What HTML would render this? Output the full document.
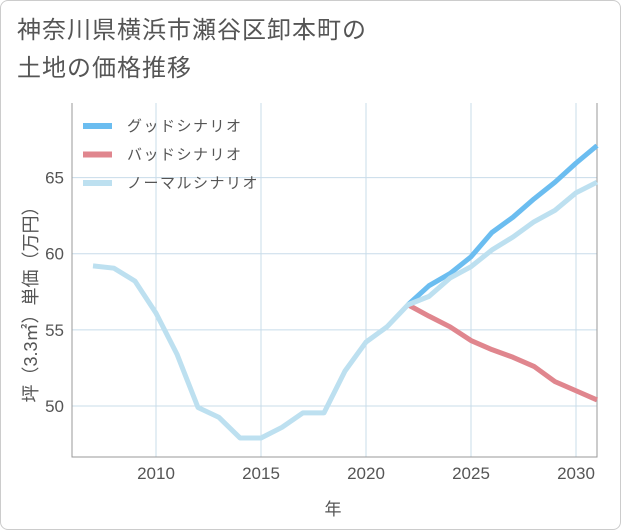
<!DOCTYPE html>
<html><head><meta charset="utf-8"><style>
body{margin:0;background:#fff;font-family:"Liberation Sans","Noto Sans CJK JP",sans-serif}
#card{position:absolute;left:0;top:0;width:619px;height:528px;border:1px solid #ccc;border-radius:8px;background:#fff}
#title{position:absolute;left:17px;top:12px;font-size:24px;line-height:38px;color:#555;letter-spacing:1px}
svg{position:absolute;left:0;top:0}
</style></head><body>
<div id="card"></div>
<div id="title">神奈川県横浜市瀬谷区卸本町の<br>土地の価格推移</div>
<svg id="chart" width="621" height="530"></svg>
<script>
const years=[2007,2008,2009,2010,2011,2012,2013,2014,2015,2016,2017,2018,2019,2020,2021,2022,2023,2024,2025,2026,2027,2028,2029,2030,2031];
const normal=[59.2,59.05,58.2,56.1,53.4,49.9,49.25,47.9,47.9,48.6,49.55,49.55,52.3,54.2,55.2,56.65,57.2,58.4,59.15,60.25,61.1,62.1,62.85,64.0,64.7];
const goodYears=[2022,2023,2024,2025,2026,2027,2028,2029,2030,2031];
const good=[56.65,57.9,58.7,59.8,61.4,62.4,63.6,64.7,65.95,67.1];
const bad=[56.65,55.9,55.2,54.3,53.7,53.2,52.6,51.6,51.0,50.4];
const xTicks=[2010,2015,2020,2025,2030];
const yTicks=[50,55,60,65];
const L=72,R=597,T=103,B=457,x0=2006,x1=2031,y0=46.65,y1=69.9;
const X=v=>L+(v-x0)/(x1-x0)*(R-L);
const Y=v=>B-(v-y0)/(y1-y0)*(B-T);
const svg=document.getElementById('chart');const NS='http://www.w3.org/2000/svg';
function mk(t,a,p){const e=document.createElementNS(NS,t);for(const k in a)e.setAttribute(k,a[k]);(p||svg).appendChild(e);return e;}
xTicks.forEach(t=>{const l=mk('line',{x1:X(t),x2:X(t),y1:T,y2:B,stroke:'#c8dcea','stroke-width':1});

const tx=mk('text',{x:X(t),y:479,'text-anchor':'middle','font-size':17,fill:'#555'});tx.textContent=t;
});
yTicks.forEach(t=>{const l=mk('line',{x1:L,x2:R,y1:Y(t),y2:Y(t),stroke:'#c8dcea','stroke-width':1});

const tx=mk('text',{x:64,y:Y(t)+6,'text-anchor':'end','font-size':17,fill:'#555'});tx.textContent=t;
});
const ax=mk('path',{d:`M${L},${T}V${B}H${R}V${T}`,fill:'none',stroke:'#999','stroke-width':1});

function line(xs,ys,c,n){const p=mk('polyline',{points:xs.map((x,i)=>X(x)+','+Y(ys[i])).join(' '),fill:'none',stroke:c,'stroke-width':5,'stroke-linejoin':'round'});
}
line(goodYears,good,'#6bbdf0','good-scenario-line');
line(goodYears,bad,'#e0868e','bad-scenario-line');
line(years,normal,'#bde0f0','normal-scenario-line');
const leg=[['グッドシナリオ','#6bbdf0'],['バッドシナリオ','#e0868e'],['ノーマルシナリオ','#bde0f0']];
leg.forEach((d,i)=>{const y=126+i*28.5;
const g=mk('g',{});
mk('line',{x1:83,x2:112,y1:y,y2:y,stroke:d[1],'stroke-width':6},g);
const t=mk('text',{x:127,y:y+5,'font-size':15,fill:'#555','letter-spacing':1.5},g);t.textContent=d[0];});
const xt=mk('text',{x:333,y:515,'text-anchor':'middle','font-size':17,fill:'#555'});xt.textContent='年';

const yt=mk('text',{x:0,y:0,'text-anchor':'middle','font-size':18,fill:'#555',transform:'translate(37,300) rotate(-90)'});yt.textContent='坪（3.3㎡）単価（万円）';

</script>
</body></html>
